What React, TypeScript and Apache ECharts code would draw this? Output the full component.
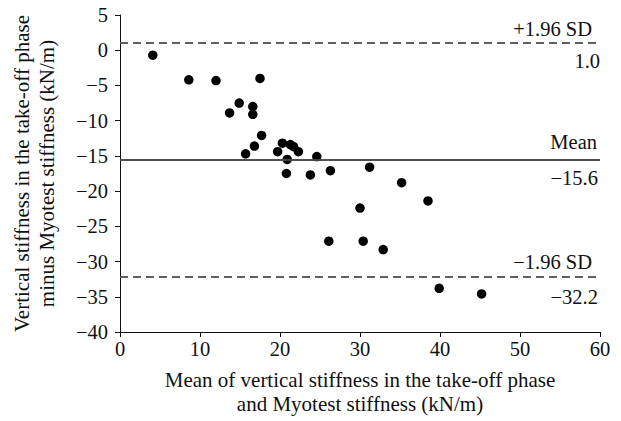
import React, { useEffect, useRef } from "react";
import * as echarts from "echarts";

const meanValues = [4.1, 8.6, 12.0, 17.5, 14.9, 13.7, 16.6, 16.6, 17.7, 16.8, 15.7, 20.3, 19.7, 21.3, 21.7, 22.3, 20.9, 24.6, 20.8, 23.8, 26.3, 31.2, 35.2, 38.5, 30.0, 26.1, 30.4, 32.9, 39.9, 45.2];
const diffValues = [-0.7, -4.2, -4.3, -4.0, -7.5, -8.9, -8.0, -9.1, -12.1, -13.6, -14.7, -13.2, -14.4, -13.4, -13.7, -14.4, -15.5, -15.1, -17.5, -17.7, -17.1, -16.6, -18.8, -21.4, -22.4, -27.1, -27.1, -28.3, -33.8, -34.6];

const upperLimit = 1.0;
const meanDiff = -15.6;
const lowerLimit = -32.2;

const upperLabel = "+1.96 SD";
const meanLabel = "Mean";
const lowerLabel = "\u22121.96 SD";

const xTitle = "Mean of vertical stiffness in the take-off phase\nand Myotest stiffness (kN/m)";
const yTitle = "Vertical stiffness in the take-off phase\nminus Myotest stiffness (kN/m)";

const fmt = (v: number) => (v < 0 ? "\u2212" + Math.abs(v).toFixed(1) : v.toFixed(1));
const tickFmt = (v: number) => (v < 0 ? "\u2212" + Math.abs(v) : String(v));

const FONT = "'Liberation Serif', 'DejaVu Serif', serif";

export default function App() {
  const ref = useRef<HTMLDivElement>(null);
  useEffect(() => {
    if (!ref.current) return;
    const chart = echarts.init(ref.current, null, { renderer: "svg" });
    const dashed = { type: [8, 5] as any, color: "#555", width: 1.5 };
    const solid = { type: "solid" as any, color: "#444", width: 1.5 };
    const lbl = (text: string, pos: string, dist: [number, number]) => ({
      show: true,
      formatter: text,
      position: pos,
      distance: dist,
      fontFamily: FONT,
      fontSize: 20.5,
      color: "#111",
    });
    chart.setOption({
      animation: false,
      textStyle: { fontFamily: FONT },
      grid: { left: 120, right: 21, top: 15, bottom: 86 },
      xAxis: {
        type: "value",
        min: 0,
        max: 60,
        interval: 10,
        splitLine: { show: false },
        axisLine: { show: true, onZero: false, lineStyle: { color: "#111", width: 1 } },
        axisTick: { show: true, length: 5, lineStyle: { color: "#111" } },
        axisLabel: { color: "#111", fontSize: 20.5, fontFamily: FONT, margin: 6, formatter: tickFmt },
        name: xTitle,
        nameLocation: "middle",
        nameGap: 36,
        nameTextStyle: { color: "#111", fontSize: 21, fontFamily: FONT, lineHeight: 24 },
      },
      yAxis: {
        type: "value",
        min: -40,
        max: 5,
        interval: 5,
        splitLine: { show: false },
        axisLine: { show: true, onZero: false, lineStyle: { color: "#111", width: 1 } },
        axisTick: { show: true, length: 5, lineStyle: { color: "#111" } },
        axisLabel: { color: "#111", fontSize: 20.5, fontFamily: FONT, margin: 12, formatter: tickFmt },
        name: yTitle,
        nameLocation: "middle",
        nameGap: 61,
        nameTextStyle: { color: "#111", fontSize: 21, fontFamily: FONT, lineHeight: 25 },
      },
      series: [
        {
          type: "scatter",
          data: meanValues.map((x, i) => [x, diffValues[i]]),
          symbolSize: 9.5,
          itemStyle: { color: "#000", opacity: 1 },
          markLine: {
            silent: true,
            symbol: "none",
            data: [
              { yAxis: upperLimit, lineStyle: dashed, label: lbl(upperLabel, "insideEndTop", [8, 4]) },
              { yAxis: upperLimit, lineStyle: dashed, label: lbl(fmt(upperLimit), "insideEndBottom", [0, 7]) },
              { yAxis: meanDiff, lineStyle: solid, label: lbl(meanLabel, "insideEndTop", [3, 8]) },
              { yAxis: meanDiff, lineStyle: solid, label: lbl(fmt(meanDiff), "insideEndBottom", [2, 7]) },
              { yAxis: lowerLimit, lineStyle: dashed, label: lbl(lowerLabel, "insideEndTop", [8, 5]) },
              { yAxis: lowerLimit, lineStyle: dashed, label: lbl(fmt(lowerLimit), "insideEndBottom", [2, 9]) },
            ],
          },
        },
      ],
    });
    return () => chart.dispose();
  }, []);
  return <div ref={ref} style={{ width: 621, height: 421, position: "absolute", left: 0, top: 0 }} />;
}
